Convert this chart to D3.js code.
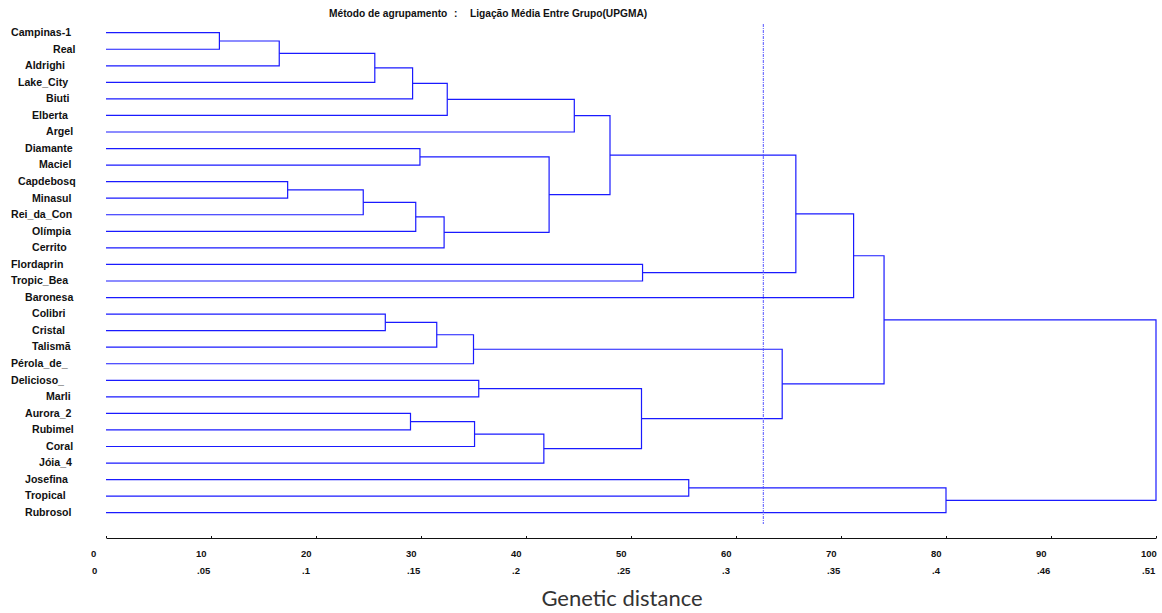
<!DOCTYPE html>
<html>
<head>
<meta charset="utf-8">
<script src="https://cdn.jsdelivr.net/npm/d3@7"></script>
<style>
  html, body { margin: 0; padding: 0; background: #fff; }
  svg { display: block; }
</style>
</head>
<body>
<svg id="chart" width="1162" height="613"></svg>
<script>
// ---- data ----
const leaves = ["Campinas-1","Real","Aldrighi","Lake_City","Biuti","Elberta","Argel",
  "Diamante","Maciel","Capdebosq","Minasul","Rei_da_Con","Olímpia","Cerrito",
  "Flordaprin","Tropic_Bea","Baronesa","Colibri","Cristal","Talismã","Pérola_de_",
  "Delicioso_","Marli","Aurora_2","Rubimel","Coral","Jóia_4","Josefina","Tropical","Rubrosol"];

// merges: [childA, childB, linkage distance]; leaves are 0..29, merge k becomes node 30+k
const merges = [
  [0, 1, 10.8], [30, 2, 16.5], [31, 3, 25.6], [32, 4, 29.2], [33, 5, 32.5], [34, 6, 44.6],
  [7, 8, 29.9], [9, 10, 17.3], [37, 11, 24.5], [38, 12, 29.5], [39, 13, 32.2], [36, 40, 42.2],
  [35, 41, 48.0], [14, 15, 51.1], [42, 43, 65.7], [44, 16, 71.2],
  [17, 18, 26.6], [46, 19, 31.5], [47, 20, 35.0], [21, 22, 35.5], [23, 24, 29.0], [50, 25, 35.1],
  [51, 26, 41.7], [49, 52, 51.0], [48, 53, 64.4], [45, 54, 74.1],
  [27, 28, 55.5], [56, 29, 80.0], [55, 57, 100]
];

const cutLevel = 62.6;
const ticks1 = [0, 10, 20, 30, 40, 50, 60, 70, 80, 90, 100];
const ticks2 = ["0", ".05", ".1", ".15", ".2", ".25", ".3", ".35", ".4", ".46", ".51"];
const title1 = "Método de agrupamento";
const title2 = "Ligação Média Entre Grupo(UPGMA)";
const xTitle = "Genetic distance";

// ---- layout ----
const svg = d3.select("#chart");
const x = d3.scaleLinear().domain([0, 100]).range([106, 1156]);
const y = d3.scalePoint().domain(d3.range(leaves.length)).range([32.7, 512.7]);

// build node table
const nodes = leaves.map((name, i) => ({ id: i, name, h: 0, y: y(i) }));
merges.forEach(([a, b, h], k) => {
  nodes.push({ id: leaves.length + k, a, b, h, y: (nodes[a].y + nodes[b].y) / 2 });
});

const lineColor = "#1a1aff";
const g = svg.append("g");

// links
g.selectAll("path.link")
  .data(nodes.filter(n => n.a !== undefined))
  .join("path")
  .attr("class", "link")
  .attr("fill", "none")
  .attr("stroke", lineColor)
  .attr("stroke-width", 1.2)
  .attr("d", n => {
    const A = nodes[n.a], B = nodes[n.b];
    return `M${x(A.h)},${A.y}H${x(n.h)}V${B.y}H${x(B.h)}`;
  });

// cut line
svg.append("line")
  .attr("x1", x(cutLevel)).attr("x2", x(cutLevel))
  .attr("y1", 24).attr("y2", 524)
  .attr("stroke", "#5555ff")
  .attr("stroke-width", 1)
  .attr("stroke-dasharray", "3,1,1,1");

// leaf labels (padded to 10-char field)
svg.selectAll("text.leaf")
  .data(nodes.slice(0, leaves.length))
  .join("text")
  .attr("class", "leaf")
  .attr("x", d => 11 + (10 - d.name.length) * 7)
  .attr("y", d => d.y + 3.3)
  .attr("font-family", "Liberation Sans, Arial, sans-serif")
  .attr("font-weight", "bold")
  .attr("font-size", "10.6px")
  .attr("fill", "#111")
  .text(d => d.name);

// title
const tg = svg.append("g")
  .attr("font-family", "Liberation Sans, Arial, sans-serif")
  .attr("font-weight", "bold")
  .attr("font-size", "10.2px")
  .attr("fill", "#111");
tg.append("text").attr("x", 329).attr("y", 17).text(title1);
tg.append("text").attr("x", 454).attr("y", 17).text(":");
tg.append("text").attr("x", 470).attr("y", 17).text(title2);

// axis
const axis = d3.axisTop(x).tickValues(ticks1).tickSize(2).tickSizeOuter(0).tickFormat("");
const ag = svg.append("g").attr("transform", "translate(0,538)").call(axis);
ag.select(".domain").attr("stroke", "#111").attr("stroke-width", 1.2);
ag.selectAll(".tick line").attr("stroke", "#111");

const lg = svg.append("g")
  .attr("font-family", "Liberation Sans, Arial, sans-serif")
  .attr("font-weight", "bold")
  .attr("font-size", "9.5px")
  .attr("fill", "#111");
lg.selectAll("text.t1").data(ticks1).join("text")
  .attr("class", "t1")
  .attr("x", d => x(d) - 15)
  .attr("y", 556.5)
  .text(d => d);
lg.selectAll("text.t2").data(ticks2).join("text")
  .attr("class", "t2")
  .attr("x", (d, i) => x(ticks1[i]) - 14)
  .attr("y", 573.5)
  .text(d => d);

// x title
svg.append("text")
  .attr("x", 622)
  .attr("y", 606)
  .attr("text-anchor", "middle")
  .attr("font-family", "Lato, 'Open Sans', sans-serif")
  .attr("font-size", "22px")
  .attr("fill", "#333")
  .text(xTitle);
</script>
</body>
</html>
